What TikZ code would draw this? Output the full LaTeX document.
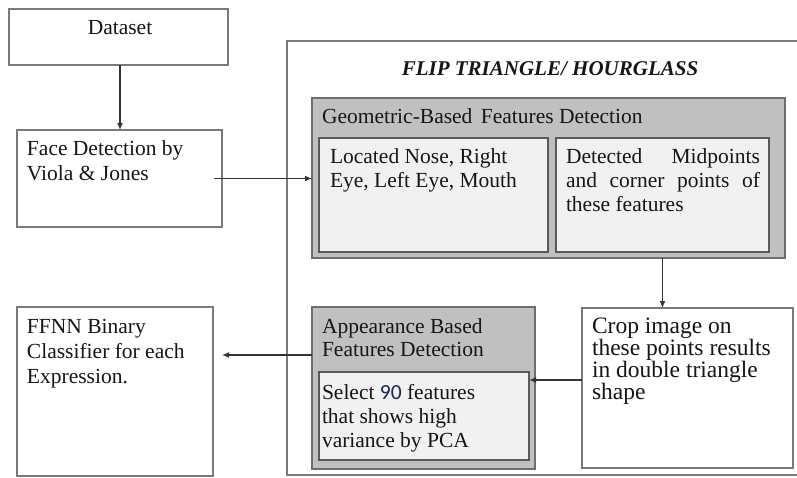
\documentclass[tikz,border=0pt]{standalone}
\usepackage{fontspec}
\setmainfont{Liberation Serif}
\newfontfamily\numfont{Carlito}
\usetikzlibrary{arrows.meta}
\definecolor{txt}{HTML}{161616}
\definecolor{boxline}{HTML}{7A7A7A}
\definecolor{grayfill}{HTML}{C0C0C0}
\definecolor{grayline}{HTML}{6E6E6E}
\definecolor{innerfill}{HTML}{F1F1F1}
\definecolor{innerline}{HTML}{5A5A5A}
\definecolor{arrowcol}{HTML}{333333}
\definecolor{numcol}{HTML}{1A2550}
\tikzset{
  plainbox/.style={draw=boxline, line width=1.4pt, fill=white, inner sep=0pt, outer sep=0pt, anchor=north west},
  graybox/.style={draw=grayline, line width=1.6pt, fill=grayfill, inner sep=0pt, outer sep=0pt, anchor=north west},
  innerbox/.style={draw=innerline, line width=1.6pt, fill=innerfill, inner sep=0pt, outer sep=0pt, anchor=north west},
  lbl/.style={inner sep=0pt, outer sep=0pt, anchor=north west, align=left, text=txt,
    font=\fontsize{21.5}{24}\selectfont},
  conn/.style={draw=arrowcol, line width=1.6pt, -{Latex[length=7pt,width=6pt]}},
}
\begin{document}
\begin{tikzpicture}[x=1pt,y=-1pt]
\useasboundingbox (0,0) rectangle (797,477);
% outer frame (right side beyond the picture)
\draw[boxline, line width=1.4pt] (802,41) -- (287,41) -- (287,475) -- (802,475);
\node[lbl, anchor=base, font=\fontsize{21}{24}\bfseries\itshape\selectfont] (title) at (550,75) {FLIP TRIANGLE/ HOURGLASS};

% boxes
\node[plainbox, minimum width=219pt, minimum height=56pt] (dataset) at (9,9) {};
\node[plainbox, minimum width=205pt, minimum height=97pt] (face) at (17,130) {};
\node[plainbox, minimum width=196pt, minimum height=169pt] (ffnn) at (17,307) {};
\node[graybox, minimum width=473pt, minimum height=160pt] (geo) at (312,98) {};
\node[innerbox, minimum width=229pt, minimum height=114pt] (loc) at (319,138) {};
\node[innerbox, minimum width=213pt, minimum height=114pt] (det) at (556,138) {};
\node[graybox, minimum width=223pt, minimum height=162pt] (app) at (312,307) {};
\node[innerbox, minimum width=210pt, minimum height=88pt] (sel) at (319,372) {};
\node[plainbox, minimum width=211pt, minimum height=160pt] (crop) at (582,308) {};

% texts
\node[lbl, anchor=base] (tdataset) at (120,34) {Dataset};
\node[lbl, font=\fontsize{21.5}{25}\selectfont] (tface) at (27,141) {Face Detection by\\Viola \& Jones};
\node[lbl, font=\fontsize{21.5}{25}\selectfont] (tffnn) at (27,319) {FFNN Binary\\Classifier for each\\Expression.};
\node[lbl] (tgeo) at (322,109) {Geometric-Based\hspace{3pt} Features Detection};
\node[lbl, font=\fontsize{21.5}{23.5}\selectfont] (tloc) at (330,149) {Located Nose, Right\\Eye, Left Eye, Mouth};
\node[lbl, align=justify, text width=194pt] (tdet) at (566,149) {Detected Midpoints\linebreak and corner points of\linebreak these features};
\node[lbl, font=\fontsize{21.5}{23}\selectfont] (tapp) at (322,319) {Appearance Based\\Features Detection};
\node[lbl] (tsel) at (322,384) {Select {\numfont\color{numcol}90} features\\that shows high\\variance by PCA};
\node[lbl, font=\fontsize{23.5}{22}\selectfont] (tcrop) at (592,318) {Crop image on\\these points results\\in double triangle\\shape};

% connectors
\coordinate (fromapp) at (312,355);
\draw[conn] ([xshift=1.5pt]dataset.south) -- ([xshift=1.5pt]dataset.south |- face.north);
\draw[conn] ([xshift=-8pt]face.east) -- (face.east -| geo.west);
\draw[conn] (det.south |- geo.south) -- (det.south |- crop.north);
\draw[conn] ([yshift=8pt]crop.west) -- ([yshift=8pt]crop.west -| sel.east);
\draw[conn] (fromapp) -- ([xshift=9pt]ffnn.east |- fromapp);
\end{tikzpicture}
\end{document}
